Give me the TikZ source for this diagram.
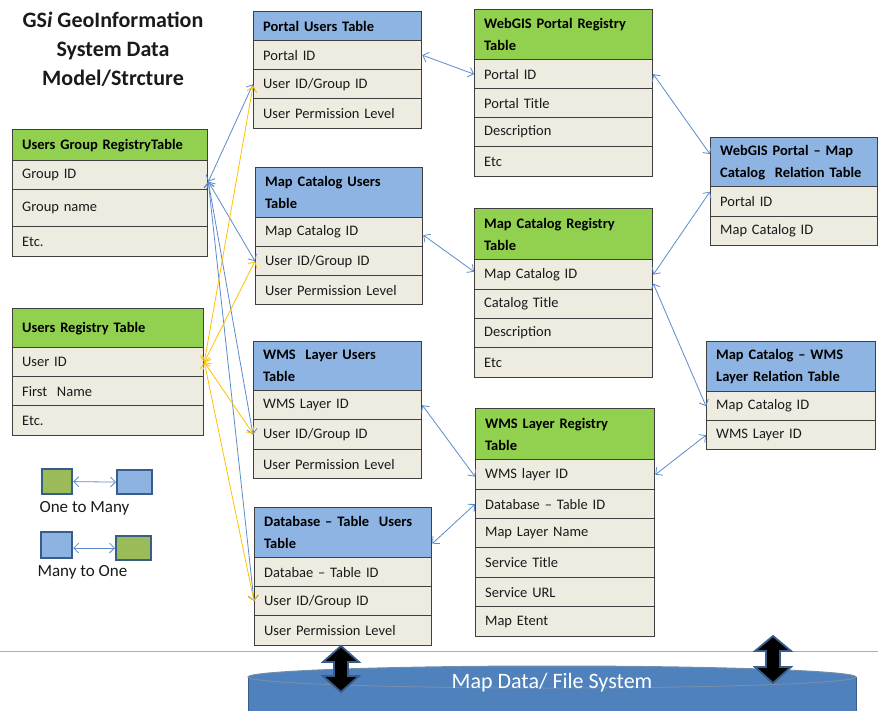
\documentclass[tikz,border=0pt]{standalone}
\usepackage{fontspec}
\setmainfont{Carlito}
\usetikzlibrary{arrows.meta,calc}
\definecolor{hgreen}{HTML}{92D050}
\definecolor{hblue}{HTML}{8DB4E2}
\definecolor{rowfill}{HTML}{EEECE1}
\definecolor{bordc}{HTML}{3F3F3F}
\definecolor{cblue}{HTML}{5B8BCB}
\definecolor{cyell}{HTML}{FFC000}
\definecolor{lgreen}{HTML}{9BBB59}
\definecolor{lblue}{HTML}{8DB3E2}
\definecolor{ldark}{HTML}{385D8A}
\definecolor{cylfill}{HTML}{4F81BD}
\definecolor{hline}{HTML}{95B3D7}
\definecolor{txt}{HTML}{1A1A1A}
\newcommand{\tcell}[7]{%
  \pgfmathsetmacro{\cw}{#4-#2}\pgfmathsetmacro{\chh}{#5-#3}\pgfmathsetmacro{\tw}{#4-#2-19}%
  \node[#6, anchor=north west, minimum width=\cw pt, minimum height=\chh pt,
        text width=\tw pt, inner xsep=9.5pt, inner ysep=0pt, align=left] (#1) at (#2,#3) {#7};}
\tikzset{
  cellbase/.style={draw=bordc, line width=1.3pt, text=txt},
  rowst/.style={cellbase, fill=rowfill, font=\fontsize{14.5}{18}\selectfont},
  hgr/.style={cellbase, fill=hgreen, text=black, font=\bfseries\fontsize{14.5}{22}\selectfont},
  hbl/.style={cellbase, fill=hblue, text=black, font=\bfseries\fontsize{14.5}{22}\selectfont},
  conb/.style={draw=cblue, line width=0.8pt, {Straight Barb[length=5pt,width=10pt]}-{Straight Barb[length=5pt,width=10pt]}},
  cony/.style={draw=cyell, line width=0.8pt, {Straight Barb[length=5pt,width=10pt]}-{Straight Barb[length=5pt,width=10pt]}},
  legbox/.style={draw=ldark, line width=2.2pt, anchor=north west, inner sep=0pt},
  legtxt/.style={font=\fontsize{17}{20}\selectfont, text=txt},
  blockarr/.style={fill=black, draw=ldark, line width=1.8pt, line join=miter},
}
\begin{document}
\begin{tikzpicture}[x=1pt,y=-1pt]
\useasboundingbox (0,0) rectangle (878,711);
% title
\node[align=center, font=\bfseries\fontsize{22}{29}\selectfont, text=txt] (title) at (113,49)
  {GS\textit{i} GeoInformation\\System Data\\Model/Strcture};
% bottom line
\draw[hline, line width=1pt] (0,651) -- (878,651);
% Users Group Registry
\tcell{ug0}{12}{129}{207}{160}{hgr}{Users Group RegistryTable}
\tcell{ug1}{12}{160}{207}{189}{rowst}{Group ID}
\tcell{ug2}{12}{189}{207}{226}{rowst}{Group name}
\tcell{ug3}{12}{226}{207}{256}{rowst}{Etc.}
% Users Registry
\tcell{ur0}{12}{308}{203}{347}{hgr}{Users Registry Table}
\tcell{ur1}{12}{347}{203}{376}{rowst}{User ID}
\tcell{ur2}{12}{376}{203}{405}{rowst}{First\ \ Name}
\tcell{ur3}{12}{405}{203}{435}{rowst}{Etc.}
% Portal Users
\tcell{pu0}{253}{11}{421}{40}{hbl}{Portal Users Table}
\tcell{pu1}{253}{40}{421}{69}{rowst}{Portal ID}
\tcell{pu2}{253}{69}{421}{98}{rowst}{User ID/Group ID}
\tcell{pu3}{253}{98}{421}{128}{rowst}{User Permission Level}
% Map Catalog Users
\tcell{mu0}{255}{167}{422}{217}{hbl}{Map Catalog Users\\Table}
\tcell{mu1}{255}{217}{422}{246}{rowst}{Map Catalog ID}
\tcell{mu2}{255}{246}{422}{275}{rowst}{User ID/Group ID}
\tcell{mu3}{255}{275}{422}{304}{rowst}{User Permission Level}
% WMS Layer Users
\tcell{wu0}{253}{341}{421}{390}{hbl}{WMS\ \ Layer Users\\Table}
\tcell{wu1}{253}{390}{421}{419}{rowst}{WMS Layer ID}
\tcell{wu2}{253}{419}{421}{449}{rowst}{User ID/Group ID}
\tcell{wu3}{253}{449}{421}{478}{rowst}{User Permission Level}
% Database Table Users
\tcell{du0}{254}{507}{431}{557}{hbl}{Database – Table\ \ Users\\Table}
\tcell{du1}{254}{557}{431}{586}{rowst}{Databae – Table ID}
\tcell{du2}{254}{586}{431}{615}{rowst}{User ID/Group ID}
\tcell{du3}{254}{615}{431}{645}{rowst}{User Permission Level}
% WebGIS Portal Registry
\tcell{wp0}{474}{9}{652}{59}{hgr}{WebGIS Portal Registry\\Table}
\tcell{wp1}{474}{59}{652}{88}{rowst}{Portal ID}
\tcell{wp2}{474}{88}{652}{117}{rowst}{Portal Title}
\tcell{wp3}{474}{117}{652}{146}{rowst}{Description}
\tcell{wp4}{474}{146}{652}{176}{rowst}{Etc}
% Map Catalog Registry
\tcell{mr0}{474}{208}{652}{259}{hgr}{Map Catalog Registry\\Table}
\tcell{mr1}{474}{259}{652}{289}{rowst}{Map Catalog ID}
\tcell{mr2}{474}{289}{652}{318}{rowst}{Catalog Title}
\tcell{mr3}{474}{318}{652}{347}{rowst}{Description}
\tcell{mr4}{474}{347}{652}{377}{rowst}{Etc}
% WMS Layer Registry
\tcell{wr0}{475}{408}{654}{459}{hgr}{WMS Layer Registry\\Table}
\tcell{wr1}{475}{459}{654}{489}{rowst}{WMS layer ID}
\tcell{wr2}{475}{489}{654}{518}{rowst}{Database – Table ID}
\tcell{wr3}{475}{518}{654}{547}{rowst}{Map Layer Name}
\tcell{wr4}{475}{547}{654}{577}{rowst}{Service Title}
\tcell{wr5}{475}{577}{654}{606}{rowst}{Service URL}
\tcell{wr6}{475}{606}{654}{636}{rowst}{Map Etent}
% WebGIS Portal - Map Catalog relation
\tcell{pm0}{710}{137}{877}{186}{hbl}{WebGIS Portal – Map\\Catalog\ \ Relation Table}
\tcell{pm1}{710}{186}{877}{216}{rowst}{Portal ID}
\tcell{pm2}{710}{216}{877}{245}{rowst}{Map Catalog ID}
% Map Catalog - WMS relation
\tcell{mw0}{706}{341}{875}{391}{hbl}{Map Catalog – WMS\\Layer Relation Table}
\tcell{mw1}{706}{391}{875}{420}{rowst}{Map Catalog ID}
\tcell{mw2}{706}{420}{875}{449}{rowst}{WMS Layer ID}
% connectors: group id
\coordinate (gid) at ([yshift=-6.5pt]ug1.east);
\draw[conb] (gid) -- (pu2.west);
\draw[conb] (gid) -- (mu2.west);
\draw[conb] (gid) -- (wu2.west);
\draw[conb] (gid) -- (du2.west);
% connectors: user id
\draw[cony] (ur1.east) -- ([yshift=-2pt]pu2.west);
\draw[cony] (ur1.east) -- (mu2.west);
\draw[cony] (ur1.east) -- ([yshift=1pt]wu2.west);
\draw[cony] (ur1.east) -- (du2.west);
% middle-right connectors
\draw[conb] (pu1.east) -- (wp1.west);
\draw[conb] ([yshift=-3pt]mu1.east) -- ([yshift=3pt]mr1.west);
\draw[conb] (wu1.east) -- ([yshift=-2pt]wr1.west);
\draw[conb] ([yshift=-11pt]du0.east) -- (wr2.west);
\draw[conb] (wp1.east) -- ([yshift=8pt]pm0.west);
\draw[conb] (mr1.east) -- ([yshift=10pt]pm1.west);
\draw[conb] ([yshift=-9pt]mr1.east) -- (mw1.west);
\draw[conb] (wr1.east) -- (mw2.west);
% legend
\node[legbox, fill=lgreen, minimum width=30pt, minimum height=25pt] (lg1) at (41,468) {};
\node[legbox, fill=lblue, minimum width=35pt, minimum height=24pt] (lb1) at (116,469) {};
\draw[conb] (lg1.east) -- (lb1.west);
\node[legtxt, anchor=west] (lt1) at (36,508) {One to Many};
\node[legbox, fill=lblue, minimum width=31pt, minimum height=26pt] (lb2) at (40,531) {};
\node[legbox, fill=lgreen, minimum width=35pt, minimum height=24pt] (lg2) at (115,535) {};
\draw[conb] ([yshift=-3pt]lb2.east) -- (lg2.west);
\node[legtxt, anchor=west] (lt2) at (34,572) {Many to One};
% cylinder
\fill[cylfill] (248,677) -- (248,712) -- (856,712) -- (856,677) -- cycle;
\draw[ldark, line width=1pt] (248,677) -- (248,712) (856,677) -- (856,712);
\draw[fill=cylfill, draw=ldark!70!white, line width=1pt] (552,677) ellipse (304 and 11);
\node[text=white, font=\fontsize{22}{26}\selectfont] (cyl) at (552,683) {Map Data/ File System};
% block double arrows
\draw[blockarr] (341,646) -- (359,662) -- (348,662) -- (348,676) -- (359,676) -- (341,692)
  -- (323,676) -- (334,676) -- (334,662) -- (323,662) -- cycle;
\draw[blockarr] (773,636) -- (791,651) -- (780,651) -- (780,667) -- (791,667) -- (773,683)
  -- (755,667) -- (766,667) -- (766,651) -- (755,651) -- cycle;
\end{tikzpicture}
\end{document}
